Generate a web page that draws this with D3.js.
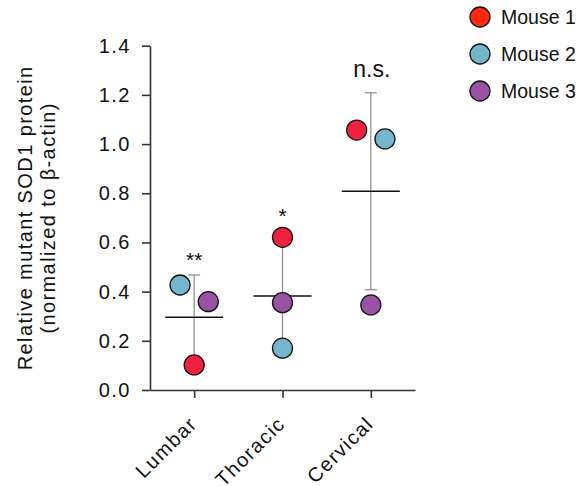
<!DOCTYPE html>
<html>
<head>
<meta charset="utf-8">
<script src="https://cdn.jsdelivr.net/npm/d3@7"></script>
<style>
  body { margin: 0; background: white; }
  text { font-family: "Liberation Sans", Arial, sans-serif; }
</style>
</head>
<body>
<div id="chart"></div>
<script>
// data
const regions = ['Lumbar', 'Thoracic', 'Cervical'];
const mice = ['Mouse 1', 'Mouse 2', 'Mouse 3'];
const mouse1 = [0.102, 0.621, 1.057];
const mouse2 = [0.427, 0.170, 1.021];
const mouse3 = [0.359, 0.355, 0.346];
// horizontal jitter per point, in fractions of the category step
const jitter1 = [0, 0, -0.16];
const jitter2 = [-0.16, 0, 0.16];
const jitter3 = [0.16, 0, 0];
const signif = ['**', '*', 'n.s.'];
const yTicks = [0, 0.2, 0.4, 0.6, 0.8, 1.0, 1.2, 1.4];
const colors = ['#F0203F', '#74B6CC', '#9A52A6'];
const legendColors = ['#FF2A12', '#74B6CC', '#9A52A6'];

const svgWidth = 585, svgHeight = 486;
const svg = d3.select('#chart').append('svg')
    .attr('width', svgWidth)
    .attr('height', svgHeight);

let x = d3.scalePoint()
    .domain(regions)
    .range([150, 415])
    .padding(0.5);
let y = d3.scaleLinear()
    .domain([0, 1.4])
    .range([390, 45.7]);

let series = [mouse1, mouse2, mouse3];
let jitters = [jitter1, jitter2, jitter3];

// axes
let axis_y = d3.axisLeft(y)
    .tickValues(yTicks)
    .tickSize(8)
    .tickSizeOuter(0)
    .tickPadding(11)
    .tickFormat(d3.format('.1f'));
let axis_x = d3.axisBottom(x)
    .tickSize(8)
    .tickSizeOuter(0)
    .tickFormat('');

let gy = svg.append('g')
    .attr('transform', 'translate(150,0)')
    .call(axis_y);
gy.selectAll('text')
    .attr('font-size', '20px')
    .attr('letter-spacing', '1.5px')
    .attr('font-family', '"Liberation Sans", Arial, sans-serif')
    .attr('fill', '#111');

let gx = svg.append('g')
    .attr('transform', 'translate(0,390)')
    .call(axis_x);

svg.selectAll('.domain, .tick line')
    .attr('stroke', '#333')
    .attr('stroke-width', 1.6);

// rotated category labels
svg.append('g').selectAll('text')
    .data(regions)
    .enter()
    .append('text')
    .attr('transform', d => `translate(${x(d) + 4},${425}) rotate(-45)`)
    .attr('text-anchor', 'end')
    .attr('font-size', '20px')
    .attr('letter-spacing', '1.5px')
    .attr('fill', '#111')
    .text(d => d);

// y label
let ylab = svg.append('text')
    .attr('transform', `translate(32,${(45.7 + 390) / 2}) rotate(-90)`)
    .attr('text-anchor', 'middle')
    .attr('font-size', '20px')
    .attr('letter-spacing', '1.4px')
    .attr('fill', '#111');
ylab.append('tspan').attr('x', 0).attr('y', 0).text('Relative mutant SOD1 protein');
ylab.append('tspan').attr('x', 0).attr('y', 23).text('(normalized to β-actin)');

// mean and SD per region
let stats = regions.map((r, i) => {
    let vals = series.map(s => s[i]);
    return { region: r, mean: d3.mean(vals), sd: d3.deviation(vals) };
});

let body = svg.append('g').classed('body', true);

body.selectAll('line.err')
    .data(stats)
    .enter()
    .append('line')
    .classed('err', true)
    .attr('x1', d => x(d.region))
    .attr('x2', d => x(d.region))
    .attr('y1', d => y(d.mean - d.sd))
    .attr('y2', d => y(d.mean + d.sd))
    .attr('stroke', '#888')
    .attr('stroke-width', 1.2);

['upper', 'lower'].forEach(side => {
    body.selectAll('line.cap-' + side)
        .data(stats)
        .enter()
        .append('line')
        .attr('class', 'cap-' + side)
        .attr('x1', d => x(d.region) - 6)
        .attr('x2', d => x(d.region) + 6)
        .attr('y1', d => y(side == 'upper' ? d.mean + d.sd : d.mean - d.sd))
        .attr('y2', d => y(side == 'upper' ? d.mean + d.sd : d.mean - d.sd))
        .attr('stroke', '#888')
        .attr('stroke-width', 1.2);
});

body.selectAll('line.mean')
    .data(stats)
    .enter()
    .append('line')
    .classed('mean', true)
    .attr('x1', d => x(d.region) - 29)
    .attr('x2', d => x(d.region) + 29)
    .attr('y1', d => y(d.mean))
    .attr('y2', d => y(d.mean))
    .attr('stroke', '#111')
    .attr('stroke-width', 1.5);

// points
let pts = [];
series.forEach((s, m) => {
    s.forEach((v, i) => {
        pts.push({ m: m, region: regions[i], value: v, jit: jitters[m][i] });
    });
});

body.selectAll('circle.point')
    .data(pts)
    .enter()
    .append('circle')
    .classed('point', true)
    .attr('cx', d => x(d.region) + d.jit * x.step())
    .attr('cy', d => y(d.value))
    .attr('r', 10)
    .attr('fill', d => colors[d.m])
    .attr('stroke', '#111')
    .attr('stroke-width', 1.3);

// significance labels
svg.selectAll('text.sig')
    .data(stats)
    .enter()
    .append('text')
    .classed('sig', true)
    .attr('x', (d, i) => x(d.region) + (i == 2 ? 1 : 0))
    .attr('y', (d, i) => i == 2 ? y(d.mean + d.sd) - 16 : i == 1 ? y(mouse1[1]) - 14 : y(d.mean + d.sd) - 8)
    .attr('text-anchor', 'middle')
    .attr('font-size', (d, i) => i == 2 ? '23px' : '21px')
    .attr('fill', '#111')
    .text((d, i) => signif[i]);

// legend
let legend = svg.selectAll('.legend')
    .data(mice)
    .enter()
    .append('g')
    .attr('class', 'legend')
    .attr('transform', (d, i) => `translate(480,${17 + i * 37})`);

legend.append('circle')
    .attr('r', 10)
    .attr('fill', (d, i) => legendColors[i])
    .attr('stroke', '#111')
    .attr('stroke-width', 1.3);

legend.append('text')
    .attr('x', 21)
    .attr('dy', '0.36em')
    .attr('font-size', '19.5px')
    .attr('fill', '#111')
    .text(d => d);
</script>
</body>
</html>
